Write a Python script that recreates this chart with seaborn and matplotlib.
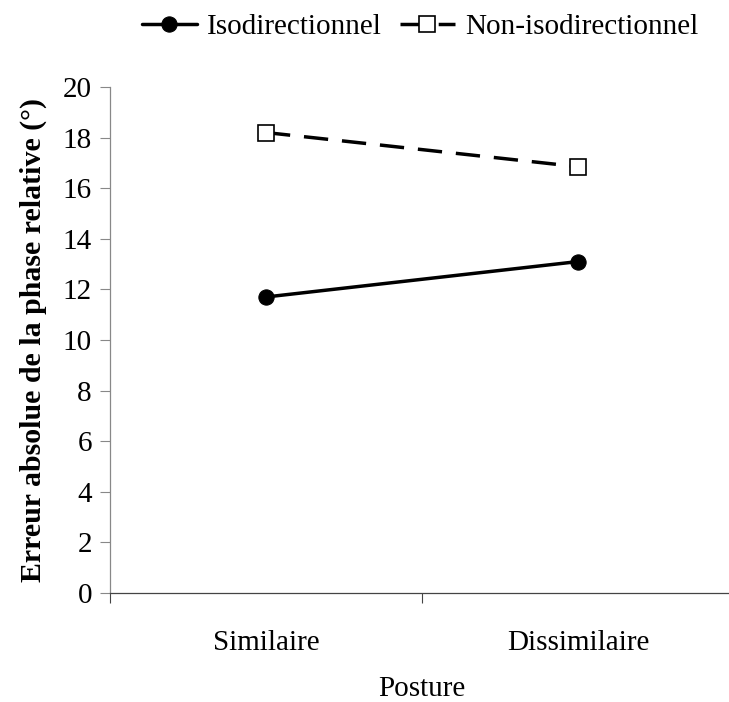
import matplotlib
matplotlib.use("Agg")
import matplotlib.pyplot as plt
import seaborn as sns
import pandas as pd
from matplotlib.ticker import FixedLocator, NullFormatter, FixedFormatter

categories = ["Similaire", "Dissimilaire"]
iso = [11.7, 13.1]
non_iso = [18.2, 16.85]
series_names = ["Isodirectionnel", "Non-isodirectionnel"]
yticks = list(range(0, 21, 2))

sns.set_style("white")
plt.rcParams['font.family'] = ['Liberation Serif', 'DejaVu Serif']
plt.rcParams['text.color'] = 'black'
plt.rcParams['axes.labelcolor'] = 'black'
plt.rcParams['xtick.color'] = 'black'
plt.rcParams['ytick.color'] = 'black'

FS = 21

fig = plt.figure(figsize=(7.29, 7.02), dpi=100)
ax = fig.add_axes([110/729, 1-593/702, 624/729, (593-87)/702])

xpos = [0, 1]
sns.lineplot(x=xpos, y=iso, ax=ax, color="black", linewidth=2.5, marker="o",
             markersize=11, markeredgecolor="black", markerfacecolor="black",
             label=series_names[0])
sns.lineplot(x=xpos, y=non_iso, ax=ax, color="black", linewidth=2.5, marker="s",
             markersize=11, markeredgecolor="black", markerfacecolor="white",
             markeredgewidth=1.2, label=series_names[1])
ax.lines[1].set_dashes([7, 4])

ax.set_xlim(-0.5, 1.5)
ax.set_ylim(0, 20)
ax.set_yticks(yticks)
ax.set_yticklabels([str(t) for t in yticks], fontsize=FS)

ax.xaxis.set_major_locator(FixedLocator([-0.5, 0.5, 1.5]))
ax.xaxis.set_major_formatter(NullFormatter())
ax.xaxis.set_minor_locator(FixedLocator(xpos))
ax.xaxis.set_minor_formatter(FixedFormatter(categories))
ax.tick_params(axis='x', which='major', direction='out', length=7, width=0.8, color='#444444', bottom=True)
ax.tick_params(axis='x', which='minor', length=0, pad=27, labelsize=FS)
ax.tick_params(axis='y', direction='out', length=7, width=0.8, color='#888888', left=True, pad=6, labelsize=FS)

for s in ['top', 'right']:
    ax.spines[s].set_visible(False)
ax.spines['left'].set_color('#888888')
ax.spines['left'].set_linewidth(0.9)
ax.spines['bottom'].set_color('#444444')
ax.spines['bottom'].set_linewidth(0.9)

ax.set_ylabel("Erreur absolue de la phase relative (°)", fontsize=FS + 0.5, fontweight='bold', labelpad=11)
ax.set_xlabel("Posture", fontsize=FS, labelpad=14)

leg = ax.legend(loc='center', bbox_to_anchor=(420/729, 1-27/702), bbox_transform=fig.transFigure,
                ncol=2, frameon=False, fontsize=FS, handlelength=1.9, columnspacing=0.6,
                handletextpad=0.35)

fig.savefig("out.png", dpi=100)
